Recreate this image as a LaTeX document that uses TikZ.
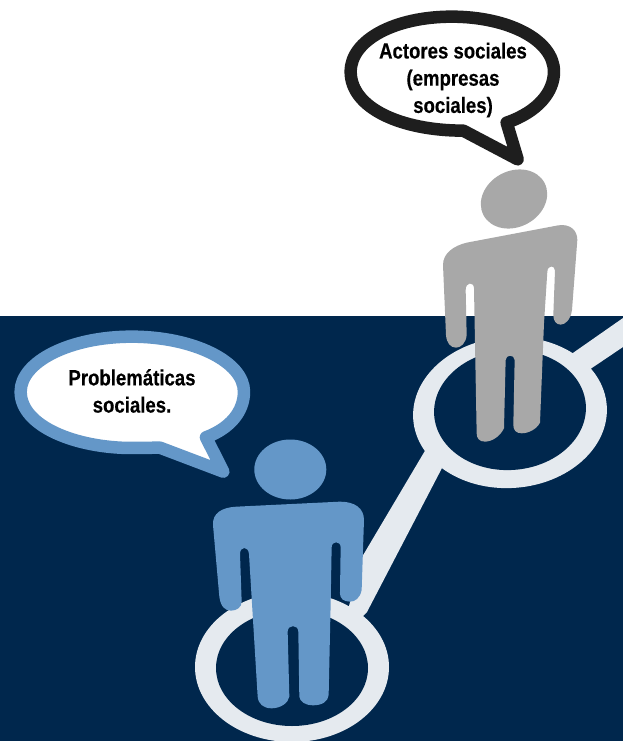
\documentclass[tikz,border=0pt]{standalone}
\usepackage{fontspec}
\setmainfont{Liberation Sans}[FakeStretch=0.845,BoldFeatures={FakeBold=0.35}]
\definecolor{navy}{HTML}{00274D}
\definecolor{ringc}{HTML}{E5EAEF}
\definecolor{bluep}{HTML}{6497C8}
\definecolor{greyp}{HTML}{A8A8A8}
\definecolor{blackb}{HTML}{1E1E1E}
\tikzset{
  bubble/.style={fill=white,line width=12.5pt,line join=round},
  labeltext/.style={font=\fontsize{22}{27.2}\selectfont\bfseries,align=center,text=black,inner sep=0pt},
}
\begin{document}
\begin{tikzpicture}[x=1pt,y=-1pt]
\useasboundingbox (0,0) rectangle (623,741);
\fill[white] (0,0) rectangle (623,741);
\clip (0,0) rectangle (623,741);
\fill[navy] (0,316) rectangle (623,741);
% connectors
\fill[ringc] (362,557) -- (429,444) -- (442,468) -- (367,612) -- (340,640) -- cycle;
\fill[ringc] (560,362) -- (623,318) -- (623,347) -- (580,376) -- cycle;
% rings
\fill[ringc,rotate around={4:(510,412.5)}] (510,412.5) ellipse (97 and 75.5);
\fill[navy,rotate around={4:(510,410)}] (510,410) ellipse (76 and 60);
\fill[ringc] (292,667) ellipse (97 and 75);
\fill[navy] (292,668) ellipse (76 and 58);
% grey person
\fill[greyp,rotate around={28:(514,199)}] (514,199) ellipse (34.5 and 28);
\begin{scope}[shift={(420,150)},x=0.3333pt,y=-0.3333pt]
\fill[greyp] (140,278) -- (415,226) .. controls (450,221) and (472,240) .. (472,270)
  -- (456,480) .. controls (452,510) and (435,524) .. (422,524)
  .. controls (408,524) and (400,512) .. (400,495)
  -- (405,362) .. controls (405,345) and (383,345) .. (382,365)
  -- (372,520) -- (360,818) .. controls (350,838) and (325,850) .. (305,850)
  .. controls (288,850) and (280,840) .. (280,825)
  -- (284,630) .. controls (283,613) and (258,613) .. (257,630)
  -- (252,835) .. controls (240,860) and (215,875) .. (195,875)
  .. controls (178,875) and (170,865) .. (170,850)
  -- (162,415) .. controls (162,395) and (137,395) .. (137,420)
  -- (140,555) .. controls (138,580) and (122,593) .. (108,593)
  .. controls (92,593) and (80,580) .. (78,555)
  -- (69,345) .. controls (69,310) and (100,288) .. (140,278) -- cycle;
\end{scope}
% blue person
\fill[bluep] (290.3,469.5) ellipse (36 and 30);
\begin{scope}[shift={(180,430)},x=0.3333pt,y=-0.3333pt]
\fill[bluep] (170,230) -- (480,215) .. controls (525,215) and (552,235) .. (552,270)
  -- (545,480) .. controls (540,505) and (525,515) .. (510,515)
  .. controls (490,515) and (480,505) .. (480,490)
  -- (482,352) .. controls (482,332) and (455,332) .. (455,352)
  -- (452,520) -- (446,795) .. controls (445,815) and (425,826) .. (400,826)
  .. controls (375,826) and (360,815) .. (358,800)
  -- (355,605) .. controls (355,583) and (323,583) .. (323,605)
  -- (328,800) .. controls (325,820) and (300,835) .. (275,835)
  .. controls (250,835) and (235,822) .. (233,800)
  -- (207,372) .. controls (205,348) and (180,348) .. (180,372)
  -- (185,515) .. controls (185,532) and (170,542) .. (153,542)
  .. controls (135,542) and (122,530) .. (118,500)
  -- (99,285) .. controls (97,250) and (125,232) .. (170,230) -- cycle;
\end{scope}
% bubbles
\begin{scope}[shift={(0,320)},x=0.3333pt,y=-0.3333pt]
\path[bubble,draw=bluep] (618,352) .. controls (690,325) and (732,275) .. (732,215)
  .. controls (732,125) and (580,50) .. (395,50)
  .. controls (210,50) and (62,125) .. (62,215)
  .. controls (62,320) and (230,384) .. (395,384)
  -- (480,383) -- (670,455) -- cycle;
\end{scope}
\begin{scope}[shift={(335,0)},x=0.3333pt,y=-0.3333pt]
\path[bubble,draw=blackb] (515,368) .. controls (610,335) and (657,275) .. (657,215)
  .. controls (657,120) and (520,50) .. (350,50)
  .. controls (180,50) and (47,120) .. (47,215)
  .. controls (47,325) and (200,392) .. (385,392)
  -- (548,478) -- cycle;
\end{scope}
\node[labeltext] (actores) at (453,80) {Actores sociales\\(empresas\\sociales)};
\node[labeltext] (problemas) at (132,391) {Problemáticas\\sociales.};
\end{tikzpicture}
\end{document}
